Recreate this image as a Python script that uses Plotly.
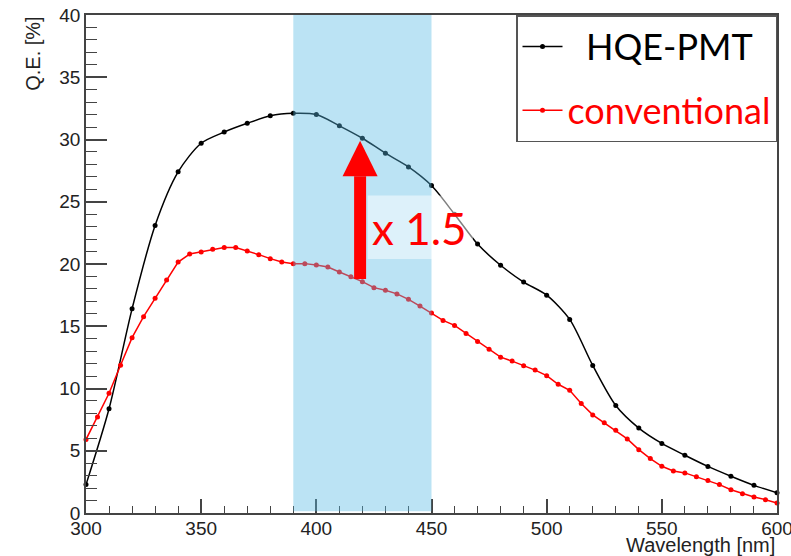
import plotly.graph_objects as go

# ---- data ----
hqe_wavelength = [300, 310, 320, 330, 340, 350, 360, 370, 380, 390, 400, 410, 420, 430, 440,
                  450, 460, 470, 480, 490, 500, 510, 520, 530, 540, 550, 560, 570, 580, 590, 600]
hqe_qe = [2.28, 8.37, 16.4, 23.1, 27.4, 29.7, 30.6, 31.3, 31.9, 32.1, 32.0, 31.1, 30.1, 28.9, 27.8,
          26.3, 24.0, 21.6, 19.9, 18.55, 17.5, 15.55, 11.85, 8.63, 6.82, 5.59, 4.64, 3.74, 2.95, 2.22, 1.63]

conv_wavelength = [300, 305, 310, 315, 320, 325, 330, 335, 340, 345, 350,
                   355, 360, 365, 370, 375, 380, 385, 390, 395, 400,
                   405, 410, 415, 420, 425, 430, 435, 440, 445, 450,
                   455, 460, 465, 470, 475, 480, 485, 490, 495, 500,
                   505, 510, 515, 520, 525, 530, 535, 540, 545, 550,
                   555, 560, 565, 570, 575, 580, 585, 590, 595, 600]
conv_qe = [5.9, 7.72, 9.62, 11.87, 14.08, 15.77, 17.24, 18.71, 20.16, 20.8, 20.97,
           21.18, 21.32, 21.32, 21.05, 20.75, 20.43, 20.16, 20.03, 20.03, 19.92,
           19.76, 19.36, 18.97, 18.58, 18.1, 17.89, 17.6, 17.16, 16.62, 16.06,
           15.47, 15.07, 14.42, 13.78, 13.16, 12.52, 12.2, 11.83, 11.48, 11.03,
           10.34, 9.86, 8.79, 7.88, 7.24, 6.65, 5.95, 5.09, 4.37, 3.75,
           3.38, 3.22, 2.92, 2.62, 2.28, 1.87, 1.55, 1.29, 1.07, 0.8]

series_names = ["HQE-PMT", "conventional"]
band_range = [390, 450]          # highlighted wavelength band [nm]
arrow_x = 419                    # arrow position [nm]
arrow_from, arrow_to = 18.8, 29.9
gain_label = "x 1.5"

x_title = "Wavelength [nm]"
y_title = "Q.E. [%]"

fig = go.Figure()

fig.add_trace(go.Scatter(
    x=hqe_wavelength, y=hqe_qe, mode="lines+markers",
    name="&nbsp;&nbsp;" + series_names[0],
    line=dict(color="black", width=1.5, shape="spline", smoothing=0.8),
    marker=dict(color="black", size=5), cliponaxis=False, legendgroup="a"))
fig.add_trace(go.Scatter(
    x=conv_wavelength, y=conv_qe, mode="lines+markers",
    name='<span style="color:#ff0000">' + series_names[1] + '</span>',
    line=dict(color="#ff0000", width=1.5),
    marker=dict(color="#ff0000", size=5), cliponaxis=False, legendgroup="b"))

shapes = [
    # highlighted band (semi-transparent, drawn above the curves)
    dict(type="rect", xref="x", yref="y", x0=band_range[0], x1=band_range[1], y0=0.15, y1=40,
         fillcolor="rgba(85,185,228,0.4)", line=dict(width=0), layer="above"),
    # light box behind label
    dict(type="rect", xref="x", yref="y", x0=422.3, x1=468, y0=20.4, y1=25.5,
         fillcolor="rgba(255,255,255,0.5)", line=dict(width=0), layer="above"),
    # arrow shaft
    dict(type="rect", xref="x", yref="y", x0=arrow_x - 2.6, x1=arrow_x + 2.6,
         y0=arrow_from, y1=arrow_to - 2.85, fillcolor="#ff0000", line=dict(width=0), layer="above"),
    # arrow head
    dict(type="path", xref="x", yref="y",
         path=f"M {arrow_x - 7.6},{arrow_to - 2.85} L {arrow_x + 7.6},{arrow_to - 2.85} L {arrow_x},{arrow_to} Z",
         fillcolor="#ff0000", line=dict(width=0), layer="above"),
]

annotations = [
    dict(text=gain_label, xref="x", yref="y", x=423.5, y=22.9, xanchor="left", yanchor="middle",
         showarrow=False, font=dict(family="Lato", size=44, color="#ff0000")),
    dict(text=x_title, xref="paper", yref="paper", x=1.0, y=-0.064, xanchor="right", yanchor="middle",
         showarrow=False, font=dict(family="Liberation Sans", size=20, color="#222")),
    dict(text=y_title, xref="paper", yref="paper", x=-0.077, y=1.0, xanchor="center", yanchor="top",
         textangle=-90, showarrow=False, font=dict(family="Liberation Sans", size=20, color="#222")),
]

axis_common = dict(showgrid=False, zeroline=False, showline=True, linecolor="#444", linewidth=1.5,
                   mirror=True, ticks="inside", tickcolor="#444", tickwidth=1.5, automargin=False,
                   ticklabeloverflow="allow",
                   tickfont=dict(family="Liberation Sans", size=19, color="#222"))

fig.update_layout(
    width=791, height=556,
    margin=dict(l=86, r=14, t=15, b=43),
    paper_bgcolor="white", plot_bgcolor="white",
    xaxis=dict(range=[300, 600], dtick=50, ticklen=14, ticklabelstandoff=-3,
               minor=dict(ticks="inside", dtick=10, ticklen=7, tickcolor="#444", tickwidth=1.2),
               **axis_common),
    yaxis=dict(range=[0, 40], dtick=5, ticklen=21,
               minor=dict(ticks="inside", dtick=1, ticklen=11, tickcolor="#444", tickwidth=1.2),
               **axis_common),
    shapes=shapes,
    annotations=annotations,
    showlegend=True,
    legend=dict(x=1, y=1, xanchor="right", yanchor="top", bgcolor="white",
                bordercolor="#555", borderwidth=1.5, tracegroupgap=14,
                font=dict(family="Lato", size=36, color="black"), itemwidth=40),
)

fig.write_html("out.html", config={"displayModeBar": False},
               post_script="document.body.style.margin='0px';document.body.style.overflow='hidden';")
